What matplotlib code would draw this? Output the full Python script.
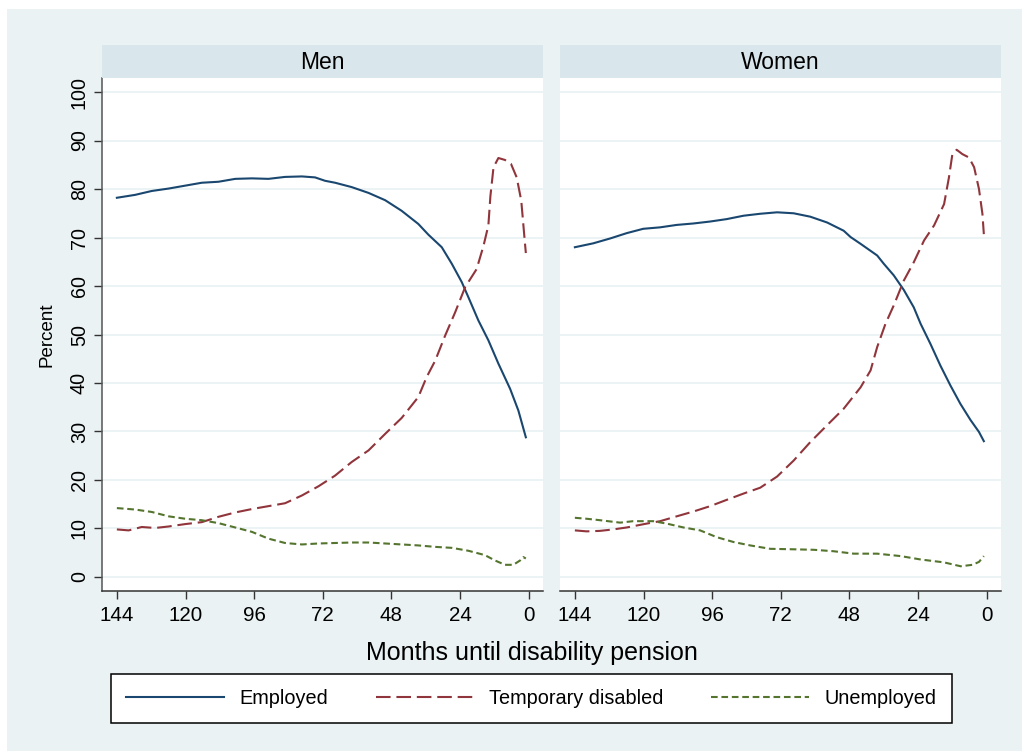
import matplotlib
matplotlib.use("Agg")
import matplotlib.pyplot as plt
from matplotlib.patches import Rectangle

plt.rcParams['font.family'] = ['Liberation Sans', 'DejaVu Sans']

# ---------------- data ----------------
panels = ["Men", "Women"]
series_names = ["Employed", "Temporary disabled", "Unemployed"]

men_emp_m = [144, 137.6, 131.8, 125.9, 120.1, 114.3, 108.5, 102.6, 96.8, 91.0, 85.2, 79.3, 74.7, 71.2,
             67.7, 61.9, 56.0, 50.2, 44.4, 38.6, 35.1, 30.4, 26.9, 23.4, 21.1, 17.6, 14.1, 10.6, 6.5, 3.6, 1.0]
men_emp_v = [78.2, 78.8, 79.6, 80.1, 80.7, 81.3, 81.5, 82.1, 82.2, 82.1, 82.5, 82.6, 82.4, 81.7,
             81.3, 80.4, 79.2, 77.7, 75.5, 72.8, 70.6, 68.0, 64.6, 60.8, 57.7, 52.9, 48.8, 44.0, 38.8, 34.3, 28.8]

men_tmp_m = [144, 139.9, 135.3, 130.6, 126.0, 120.1, 114.3, 108.5, 102.6, 96.8, 91.0, 85.2, 79.3, 73.5,
             67.7, 61.9, 56.0, 50.2, 44.4, 38.6, 35.7, 32.7, 29.2, 25.7, 22.2, 18.2, 15.8, 14.1, 13.4,
             12.3, 10.6, 8.3, 6.2, 4.2, 2.6, 1.5, 1.0]
men_tmp_v = [9.8, 9.6, 10.3, 10.1, 10.4, 10.9, 11.3, 12.4, 13.3, 14.0, 14.6, 15.2, 16.8, 18.7,
             20.9, 23.7, 26.1, 29.5, 32.8, 37.1, 41.2, 44.6, 49.8, 54.6, 59.8, 63.5, 68.3, 72.5, 78.5,
             84.5, 86.4, 86.0, 85.2, 82.4, 77.6, 70.1, 66.8]

men_une_m = [144, 137.6, 131.8, 125.9, 120.1, 114.3, 108.5, 102.6, 96.8, 91.0, 85.2, 79.3, 73.5, 67.7,
             61.9, 56.0, 50.2, 44.4, 38.6, 32.7, 26.9, 21.1, 15.3, 11.8, 8.3, 5.4, 3.0, 1.9, 1.0]
men_une_v = [14.2, 13.9, 13.4, 12.5, 12.0, 11.7, 11.1, 10.2, 9.3, 7.9, 7.0, 6.7, 6.9, 7.0,
             7.1, 7.1, 6.9, 6.7, 6.5, 6.2, 6.0, 5.4, 4.5, 3.4, 2.5, 2.5, 3.4, 4.1, 3.8]

wom_emp_m = [144, 137.6, 131.7, 125.9, 120.1, 114.2, 108.4, 102.5, 96.7, 90.9, 85.0, 79.2, 73.3, 67.5,
             61.7, 55.8, 50.0, 47.6, 44.1, 38.3, 36.0, 32.5, 29.0, 25.5, 23.1, 19.7, 16.2, 12.7, 9.2, 5.7, 2.7, 1.0]
wom_emp_v = [68.0, 68.8, 69.8, 70.9, 71.8, 72.1, 72.6, 72.9, 73.3, 73.8, 74.5, 74.9, 75.2, 75.0,
             74.3, 73.1, 71.4, 70.1, 68.7, 66.3, 64.6, 62.2, 59.2, 55.6, 52.2, 48.1, 43.6, 39.5, 35.7, 32.4, 29.9, 28.0]

wom_tmp_m = [144, 139.9, 135.2, 130.6, 125.9, 122.4, 118.9, 114.2, 108.4, 102.5, 96.7, 90.9, 85.0, 79.2,
             73.3, 67.5, 61.7, 55.8, 50.0, 44.1, 40.6, 38.3, 35.4, 32.5, 29.0, 25.5, 21.9, 18.4, 14.9,
             13.2, 12.0, 10.5, 8.5, 6.2, 4.4, 2.7, 1.5, 1.0]
wom_tmp_v = [9.6, 9.4, 9.5, 9.8, 10.2, 10.6, 11.0, 11.5, 12.5, 13.5, 14.6, 15.9, 17.2, 18.4,
             20.7, 24.0, 27.8, 31.3, 34.7, 39.1, 42.6, 47.4, 52.2, 56.0, 61.1, 64.9, 69.4, 72.5, 76.9,
             82.4, 87.2, 88.1, 87.2, 86.5, 84.5, 80.0, 74.9, 70.7]

wom_une_m = [144, 139.9, 135.2, 128.2, 123.6, 116.6, 111.9, 106.0, 100.2, 94.4, 88.5, 82.7, 75.7, 67.5,
             60.5, 53.5, 46.5, 38.3, 30.1, 23.1, 14.9, 9.1, 5.0, 2.7, 1.0]
wom_une_v = [12.2, 12.0, 11.7, 11.2, 11.5, 11.5, 11.0, 10.2, 9.6, 8.2, 7.2, 6.5, 5.8, 5.7,
             5.6, 5.3, 4.8, 4.8, 4.3, 3.6, 3.0, 2.2, 2.5, 3.1, 4.3]

x_ticks = [144, 120, 96, 72, 48, 24, 0]
y_ticks = [0, 10, 20, 30, 40, 50, 60, 70, 80, 90, 100]

data = {
    "Men": [(men_emp_m, men_emp_v), (men_tmp_m, men_tmp_v), (men_une_m, men_une_v)],
    "Women": [(wom_emp_m, wom_emp_v), (wom_tmp_m, wom_tmp_v), (wom_une_m, wom_une_v)],
}

# ---------------- styles ----------------
colors = ["#1a476f", "#90353b", "#55752f"]
dashes = [None, (7, 2.8), (3.2, 1.8)]
BG = "#eaf2f3"
STRIP = "#d9e6eb"
GRID = "#eaf2f3"

W, H = 1022, 752
fig = plt.figure(figsize=(W / 100, H / 100), dpi=100, facecolor="white")

def fx(px):
    return px / W

def fy(py):
    return 1 - py / H

# outer light background
fig.patches.append(Rectangle((fx(7), fy(751)), fx(1022) - fx(7), fy(9) - fy(751),
                             transform=fig.transFigure, facecolor=BG, edgecolor="none", zorder=-10))

ax_left = {"Men": 102, "Women": 560}
ax_w = 441
top_px, bot_px = 78, 591
strip_top = 45

handles = []
for p in panels:
    L = ax_left[p]
    ax = fig.add_axes([fx(L), fy(bot_px), fx(ax_w), fy(top_px) - fy(bot_px)])
    ax.set_facecolor("white")
    for i, (m, v) in enumerate(data[p]):
        ln, = ax.plot(m, v, color=colors[i], lw=1.5, label=series_names[i])
        if dashes[i] is not None:
            ln.set_dashes(dashes[i])
        if p == "Men":
            handles.append(ln)
    ax.set_xlim(149.2, -5.0)
    ax.set_ylim(-2.9, 102.9)
    ax.set_xticks(x_ticks)
    ax.set_yticks(y_ticks)
    ax.grid(axis="y", color=GRID, lw=1.3)
    ax.set_axisbelow(True)
    for s in ["top", "right"]:
        ax.spines[s].set_visible(False)
    ax.spines["bottom"].set_color("#333333")
    ax.spines["bottom"].set_linewidth(1.1)
    ax.tick_params(axis="x", length=6, width=1.0, color="#333333", labelsize=14.8, pad=5)
    if p == "Men":
        ax.spines["left"].set_color("#555555")
        ax.spines["left"].set_linewidth(1.1)
        ax.tick_params(axis="y", length=5.5, width=1.0, color="#333333", labelsize=14.2, pad=4)
        for t in ax.get_yticklabels():
            t.set_rotation(90)
            t.set_va("center")
        ax.set_ylabel("Percent", fontsize=13.5, labelpad=10)
    else:
        ax.spines["left"].set_visible(False)
        ax.tick_params(axis="y", left=False, labelleft=False)

    # strip header
    sax = fig.add_axes([fx(L), fy(top_px), fx(ax_w), fy(strip_top) - fy(top_px)])
    sax.set_facecolor(STRIP)
    sax.set_xticks([]); sax.set_yticks([])
    for s in sax.spines.values():
        s.set_visible(False)
    sax.text(0.5, 0.47, p, ha="center", va="center", fontsize=16.5, transform=sax.transAxes)

fig.text(fx(531.5), fy(660), "Months until disability pension", ha="center", va="baseline", fontsize=18)

leg = fig.legend(handles=handles, labels=series_names, loc="center", ncol=3,
                 bbox_to_anchor=(fx(531.5), fy(698.5)), bbox_transform=fig.transFigure,
                 fontsize=14.3, handlelength=4.9, handletextpad=0.8, columnspacing=2.4,
                 borderpad=0.78, fancybox=False, framealpha=1, edgecolor="black",
                 facecolor="white")
leg.get_frame().set_linewidth(1.1)

fig.savefig("out.png", dpi=100, facecolor=fig.get_facecolor())
